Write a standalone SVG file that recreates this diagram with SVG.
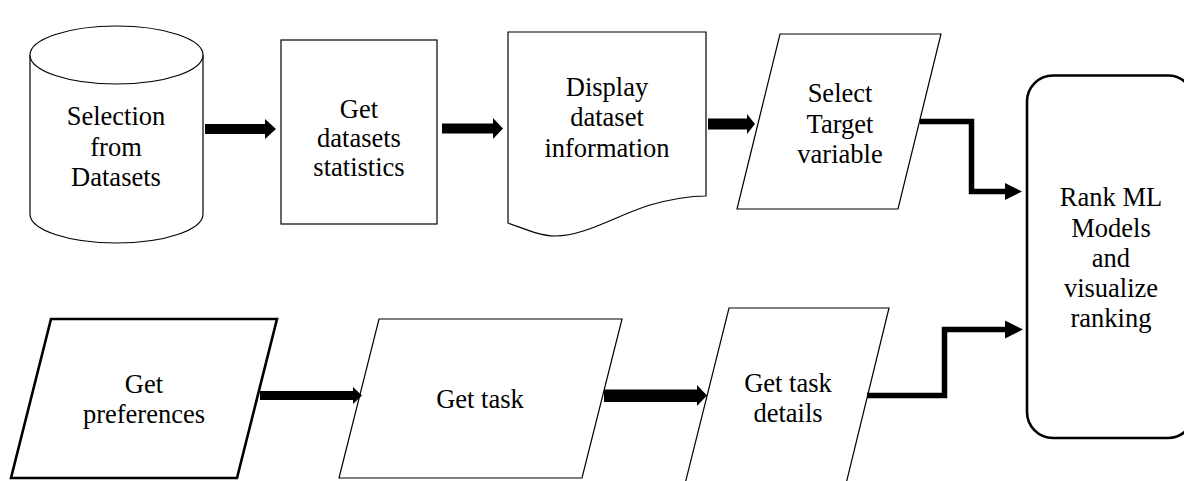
<svg xmlns="http://www.w3.org/2000/svg" width="1184" height="481" viewBox="0 0 1184 481">
  <style>
    .shape { fill: #ffffff; stroke: #000000; stroke-width: 1.2; }
    .bold { fill: #ffffff; stroke: #000000; stroke-width: 2.6; }
    .label { font-family: "Liberation Serif", "Times New Roman", serif; font-size: 26.5px; fill: #000000; text-anchor: middle; }
    .block { fill: #000000; stroke: none; }
    .elbow { fill: none; stroke: #000000; stroke-width: 5.5; stroke-linejoin: miter; }
  </style>
  <rect width="1184" height="481" fill="#ffffff"/>

  <!-- data store cylinder -->
  <g id="selection-from-datasets">
    <path class="shape" d="M30,55 L30,214 A86.5,29 0 0 0 203,214 L203,55"/>
    <ellipse class="shape" cx="116.5" cy="55" rx="86.5" ry="29"/>
    <text class="label" x="116" y="125">Selection</text>
    <text class="label" x="116" y="155.5">from</text>
    <text class="label" x="116" y="186">Datasets</text>
  </g>

  <!-- process box -->
  <g id="get-datasets-statistics">
    <rect class="shape" x="281" y="40" width="156" height="184"/>
    <text class="label" x="359" y="118">Get</text>
    <text class="label" x="359" y="147">datasets</text>
    <text class="label" x="359" y="175.5">statistics</text>
  </g>

  <!-- document shape with wavy bottom -->
  <g id="display-dataset-information">
    <path class="shape" d="M508,32 H706 V196 C690,196 675,198 650,205 C615,216 585,236 555,236 C540,236 525,229 508,223 Z"/>
    <text class="label" x="607" y="96">Display</text>
    <text class="label" x="607" y="126">dataset</text>
    <text class="label" x="607" y="156.5">information</text>
  </g>

  <!-- input parallelogram -->
  <g id="select-target-variable">
    <polygon class="shape" points="780,34 941,34 898,209 737,209"/>
    <text class="label" x="840" y="102">Select</text>
    <text class="label" x="840" y="132.5">Target</text>
    <text class="label" x="840" y="163">variable</text>
  </g>

  <!-- terminal rounded box -->
  <g id="rank-ml-models">
    <rect class="bold" x="1027" y="75.5" width="167" height="362.5" rx="26" ry="26"/>
    <text class="label" x="1111" y="206">Rank ML</text>
    <text class="label" x="1111" y="236.5">Models</text>
    <text class="label" x="1111" y="267">and</text>
    <text class="label" x="1111" y="297">visualize</text>
    <text class="label" x="1111" y="327">ranking</text>
  </g>

  <g id="get-preferences">
    <polygon class="bold" points="51,319 277,319 237,478 11,478"/>
    <text class="label" x="144" y="393">Get</text>
    <text class="label" x="144" y="423">preferences</text>
  </g>

  <g id="get-task">
    <polygon class="shape" points="379,319 622,319 582,478 339,478"/>
    <text class="label" x="480" y="408">Get task</text>
  </g>

  <g id="get-task-details">
    <polygon class="shape" points="729,308 889,308 846,484 685,484"/>
    <text class="label" x="788" y="392">Get task</text>
    <text class="label" x="788" y="422">details</text>
  </g>

  <!-- connectors -->
  <g id="connectors">
    <polygon class="block" points="205,124 265,124 265,119 276,129 265,139 265,134 205,134"/>
    <polygon class="block" points="442,123.5 493,123.5 493,118 503,128.5 493,139 493,133.5 442,133.5"/>
    <polygon class="block" points="708,118.5 747,118.5 747,114 755,124 747,134 747,129.5 708,129.5"/>
    <polygon class="block" points="260,391 353,391 353,387 362,395.5 353,404 353,400 260,400"/>
    <polygon class="block" points="604,389.5 697,389.5 697,385 707,395.5 697,406 697,402 604,402"/>
    <path class="elbow" d="M920,121.5 H971.5 V191.5 H1007"/>
    <polygon class="block" points="1005,183 1022,191.5 1005,200"/>
    <path class="elbow" d="M867,395.5 H944.5 V329.5 H1007"/>
    <polygon class="block" points="1005,320.5 1023,329.5 1005,338.5"/>
  </g>
</svg>
